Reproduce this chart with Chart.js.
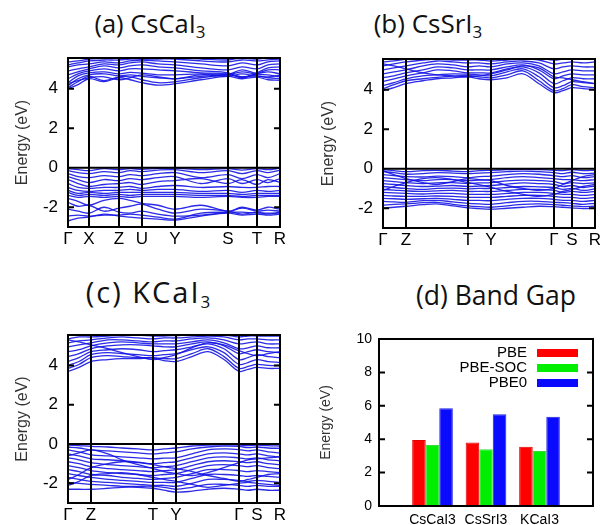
<!DOCTYPE html>
<html>
<head>
<meta charset="utf-8">
<script src="https://cdn.jsdelivr.net/npm/chart.js@4/dist/chart.umd.min.js"></script>
<style>
html, body { margin: 0; padding: 0; background: #fff; }
#wrap { position: relative; width: 600px; height: 525px; overflow: hidden; }
canvas { position: absolute; }
.ttl { position: absolute; font-family: "Open Sans", sans-serif; font-size: 25.5px; color: #111; text-align: center; white-space: nowrap; line-height: 30px; }
.ttl sub { font-size: 17px; vertical-align: -5px; line-height: 0; }
</style>
</head>
<body>
<div id="wrap">
  <div class="ttl" style="left:50px;top:8px;width:200px">(a) CsCaI<sub>3</sub></div>
  <div class="ttl" style="left:328px;top:8px;width:200px;font-size:26px">(b) CsSrI<sub>3</sub></div>
  <div class="ttl" style="left:49px;top:277px;width:200px;font-size:29px;letter-spacing:2px">(c) KCaI<sub>3</sub></div>
  <div class="ttl" style="left:396px;top:280px;width:200px;font-size:26.5px">(d) Band Gap</div>
  <canvas id="cA" width="290" height="215" style="left:0;top:48px"></canvas>
  <canvas id="cB" width="300" height="215" style="left:300px;top:48px"></canvas>
  <canvas id="cC" width="290" height="200" style="left:0;top:325px"></canvas>
  <canvas id="cD" width="300" height="200" style="left:300px;top:325px"></canvas>
</div>
<script>
Chart.defaults.font.family = '"Liberation Sans", Arial, sans-serif';
Chart.defaults.color = '#000';

const bandTicks = [-2, 0, 2, 4];
const gapTicks = [0, 2, 4, 6, 8, 10];

// (a) CsCaI3 -- k path and bands
const kA = [0, 10, 21, 36, 51, 62, 74, 90, 107, 133, 160, 174, 189, 200, 212];
const symA = [0, 21, 51, 74, 107, 160, 189, 212];
const labA = ['Γ', 'X', 'Z', 'U', 'Y', 'S', 'T', 'R'];
const condA = [
  [4.00, 4.20, 4.50, 4.35, 4.55, 4.45, 4.30, 4.18, 4.25, 4.45, 4.62, 4.50, 4.58, 4.45, 4.42],
  [4.05, 4.35, 4.62, 4.40, 4.60, 4.60, 4.45, 4.30, 4.35, 4.55, 4.68, 4.60, 4.65, 4.55, 4.50],
  [4.15, 4.50, 4.70, 4.75, 4.65, 4.70, 4.62, 4.55, 4.50, 4.62, 4.70, 4.85, 4.72, 4.70, 4.60],
  [4.25, 4.40, 4.55, 4.60, 4.45, 4.55, 4.70, 4.60, 4.50, 4.70, 4.62, 4.75, 4.62, 4.60, 4.68],
  [4.30, 4.65, 4.80, 4.85, 4.75, 4.82, 4.78, 4.70, 4.70, 4.75, 4.72, 4.95, 4.78, 4.85, 4.75],
  [4.50, 4.75, 4.90, 5.00, 4.90, 5.00, 5.00, 4.95, 4.90, 4.80, 4.75, 4.60, 4.75, 4.95, 4.95],
  [4.70, 4.85, 5.00, 5.15, 5.05, 5.15, 5.20, 5.10, 5.05, 4.90, 4.80, 4.55, 4.80, 5.05, 5.10],
  [4.90, 5.00, 5.10, 5.25, 5.20, 5.30, 5.35, 5.25, 5.20, 5.05, 4.95, 5.10, 5.00, 5.20, 5.25],
  [5.10, 5.20, 5.25, 5.35, 5.30, 5.40, 5.45, 5.40, 5.35, 5.25, 5.15, 5.30, 5.20, 5.35, 5.40],
  [5.20, 5.30, 5.40, 5.45, 5.45, 5.50, 5.50, 5.50, 5.50, 5.40, 5.35, 5.45, 5.40, 5.45, 5.50],
  [5.35, 5.40, 5.50, 5.55, 5.55, 5.58, 5.60, 5.60, 5.58, 5.50, 5.45, 5.55, 5.50, 5.55, 5.58]
];
const valA = [
  [-0.05, -0.10, -0.15, -0.05, -0.10, -0.05, -0.08, -0.03, -0.02, -0.10, -0.05, -0.12, -0.05, -0.10, -0.02],
  [-0.15, -0.25, -0.30, -0.20, -0.25, -0.15, -0.20, -0.12, -0.10, -0.25, -0.15, -0.30, -0.15, -0.25, -0.12],
  [-0.30, -0.45, -0.50, -0.40, -0.45, -0.35, -0.40, -0.30, -0.25, -0.50, -0.35, -0.55, -0.35, -0.50, -0.30],
  [-0.45, -0.60, -0.75, -0.60, -0.65, -0.55, -0.60, -0.50, -0.45, -0.80, -0.55, -0.80, -0.60, -0.75, -0.55],
  [-0.60, -0.80, -0.95, -0.85, -0.80, -0.75, -0.85, -0.70, -0.65, -0.55, -0.80, -0.60, -0.85, -0.60, -0.75],
  [-0.80, -1.00, -1.05, -1.00, -1.00, -0.95, -1.05, -0.95, -0.90, -1.00, -0.95, -1.00, -1.00, -0.95, -0.95],
  [-1.00, -1.15, -1.20, -1.15, -1.15, -1.10, -1.15, -1.10, -1.10, -1.20, -1.15, -1.25, -1.15, -1.20, -1.15],
  [-1.15, -1.30, -1.25, -1.30, -1.25, -1.25, -1.25, -1.25, -1.25, -1.30, -1.30, -1.35, -1.30, -1.30, -1.30],
  [-1.25, -1.40, -1.35, -1.40, -1.35, -1.40, -1.35, -1.35, -1.35, -1.40, -1.40, -1.45, -1.40, -1.40, -1.40],
  [-1.40, -1.50, -1.45, -1.50, -1.45, -1.50, -1.45, -1.45, -1.45, -1.50, -1.45, -1.50, -1.50, -1.45, -1.45],
  [-1.55, -1.70, -1.90, -1.65, -1.55, -1.65, -1.80, -1.90, -2.10, -1.90, -2.20, -2.00, -2.15, -2.00, -2.10],
  [-1.75, -1.95, -1.90, -2.20, -2.05, -1.95, -1.85, -2.10, -2.30, -2.10, -2.20, -2.35, -2.25, -2.35, -2.25],
  [-2.10, -2.20, -2.30, -2.00, -2.25, -2.30, -2.20, -2.35, -2.45, -2.40, -2.25, -2.05, -2.20, -2.15, -2.20],
  [-2.45, -2.40, -2.45, -2.40, -2.40, -2.35, -2.40, -2.50, -2.60, -2.30, -2.25, -2.25, -2.30, -2.30, -2.30],
  [-2.70, -2.55, -2.50, -2.35, -2.45, -2.50, -2.55, -2.60, -2.65, -2.45, -2.30, -2.40, -2.35, -2.40, -2.35]
];

// (b) CsSrI3
const kB = [0, 11, 23, 40, 54, 70, 85, 96, 108, 124, 140, 156, 171, 180, 189, 200, 212];
const symB = [0, 23, 85, 108, 171, 189, 212];
const labB = ['Γ', 'Z', 'T', 'Y', 'Γ', 'S', 'R'];
const condB = [
  [3.95, 4.10, 4.30, 4.45, 4.55, 4.60, 4.65, 4.55, 4.50, 4.60, 4.80, 4.30, 3.85, 3.95, 4.10, 4.05, 4.00],
  [4.05, 4.25, 4.45, 4.55, 4.62, 4.68, 4.72, 4.65, 4.60, 4.75, 4.95, 4.45, 3.95, 4.05, 4.25, 4.15, 4.10],
  [4.20, 4.35, 4.55, 4.70, 4.75, 4.80, 4.78, 4.75, 4.70, 4.90, 5.05, 4.65, 4.10, 4.20, 4.40, 4.35, 4.30],
  [4.40, 4.55, 4.70, 4.85, 5.00, 4.95, 4.85, 4.85, 4.85, 5.05, 5.15, 4.85, 4.30, 4.45, 4.60, 4.55, 4.55],
  [4.60, 4.70, 4.85, 5.00, 5.15, 5.10, 5.00, 5.00, 5.00, 5.15, 5.25, 5.00, 4.55, 4.70, 4.80, 4.75, 4.75],
  [4.80, 4.90, 5.00, 5.20, 5.30, 5.25, 5.15, 5.20, 5.15, 5.30, 5.35, 5.20, 4.80, 4.90, 5.00, 4.95, 4.95],
  [5.00, 5.10, 5.20, 5.35, 5.45, 5.40, 5.35, 5.35, 5.30, 5.40, 5.45, 5.35, 5.05, 5.15, 5.20, 5.15, 5.15],
  [5.20, 5.30, 5.40, 5.50, 5.55, 5.50, 5.50, 5.50, 5.45, 5.50, 5.55, 5.50, 5.30, 5.35, 5.40, 5.35, 5.40],
  [5.40, 5.45, 5.55, 5.60, 5.60, 5.60, 5.60, 5.60, 5.58, 5.60, 5.60, 5.60, 5.50, 5.55, 5.55, 5.55, 5.55],
  [5.30, 5.20, 5.05, 4.85, 4.75, 4.70, 4.65, 4.70, 4.80, 5.00, 5.20, 5.10, 4.65, 4.60, 4.50, 4.40, 4.30]
];
const valB = [
  [-0.05, -0.10, -0.15, -0.10, -0.08, -0.12, -0.15, -0.10, -0.08, -0.05, -0.03, -0.05, -0.08, -0.10, -0.05, -0.10, -0.08],
  [-0.15, -0.20, -0.28, -0.25, -0.20, -0.22, -0.25, -0.22, -0.20, -0.15, -0.12, -0.15, -0.20, -0.25, -0.18, -0.25, -0.22],
  [-0.30, -0.35, -0.40, -0.42, -0.38, -0.40, -0.45, -0.40, -0.38, -0.30, -0.25, -0.28, -0.35, -0.40, -0.35, -0.45, -0.40],
  [-0.45, -0.50, -0.55, -0.60, -0.55, -0.55, -0.60, -0.58, -0.55, -0.45, -0.40, -0.45, -0.50, -0.55, -0.55, -0.60, -0.55],
  [-0.60, -0.65, -0.70, -0.75, -0.72, -0.70, -0.75, -0.72, -0.70, -0.62, -0.58, -0.60, -0.65, -0.75, -0.70, -0.75, -0.72],
  [-0.75, -0.80, -0.85, -0.90, -0.88, -0.85, -0.90, -0.88, -0.85, -0.78, -0.72, -0.75, -0.80, -0.90, -0.85, -0.95, -0.88],
  [-0.90, -0.95, -1.00, -1.05, -1.00, -0.98, -1.02, -1.00, -1.00, -0.95, -0.90, -0.92, -0.95, -1.05, -1.00, -1.10, -1.02],
  [-1.05, -1.08, -1.12, -1.15, -1.12, -1.10, -1.15, -1.15, -1.15, -1.10, -1.05, -1.05, -1.10, -1.20, -1.15, -1.20, -1.15],
  [-1.20, -1.22, -1.25, -1.28, -1.25, -1.25, -1.30, -1.30, -1.30, -1.25, -1.20, -1.20, -1.25, -1.30, -1.30, -1.35, -1.30],
  [-1.35, -1.38, -1.40, -1.40, -1.38, -1.40, -1.45, -1.45, -1.45, -1.40, -1.35, -1.35, -1.40, -1.45, -1.45, -1.50, -1.45],
  [-1.50, -1.52, -1.55, -1.52, -1.50, -1.55, -1.60, -1.60, -1.62, -1.55, -1.50, -1.50, -1.55, -1.60, -1.60, -1.65, -1.60],
  [-1.65, -1.68, -1.70, -1.62, -1.60, -1.68, -1.75, -1.78, -1.80, -1.72, -1.65, -1.65, -1.70, -1.72, -1.75, -1.80, -1.75],
  [-1.85, -1.80, -1.78, -1.72, -1.70, -1.80, -1.88, -1.92, -1.95, -1.88, -1.80, -1.78, -1.82, -1.85, -1.88, -1.92, -1.90],
  [-2.00, -1.95, -1.90, -1.82, -1.78, -1.88, -1.98, -2.02, -2.05, -2.00, -1.95, -1.90, -1.92, -1.95, -1.98, -2.02, -2.00],
  [-0.10, -0.30, -0.50, -0.70, -0.80, -0.65, -0.50, -0.55, -0.60, -0.85, -1.00, -1.10, -1.00, -0.80, -0.60, -0.40, -0.30],
  [-1.10, -0.90, -0.70, -0.50, -0.45, -0.55, -0.70, -0.80, -0.95, -1.15, -1.30, -1.40, -1.30, -1.15, -1.05, -0.90, -0.80]
];

// (c) KCaI3 (same path as b)
const kC = [0, 11, 23, 40, 54, 70, 85, 96, 108, 124, 140, 156, 171, 180, 189, 200, 212];
const symC = [0, 23, 85, 108, 171, 189, 212];
const labC = ['Γ', 'Z', 'T', 'Y', 'Γ', 'S', 'R'];
const condC = [
  [3.70, 3.90, 4.20, 4.30, 4.35, 4.35, 4.38, 4.25, 4.20, 4.45, 4.70, 4.30, 3.70, 3.80, 3.90, 3.85, 3.85],
  [3.85, 4.05, 4.40, 4.50, 4.45, 4.40, 4.40, 4.35, 4.35, 4.60, 4.85, 4.45, 3.85, 3.95, 4.05, 4.00, 4.00],
  [4.00, 4.20, 4.55, 4.65, 4.60, 4.55, 4.50, 4.55, 4.60, 4.80, 4.95, 4.65, 4.05, 4.15, 4.30, 4.20, 4.15],
  [4.20, 4.40, 4.70, 4.80, 4.85, 4.80, 4.70, 4.75, 4.80, 4.95, 5.10, 4.85, 4.30, 4.40, 4.55, 4.45, 4.40],
  [4.45, 4.60, 4.85, 5.00, 5.05, 5.05, 5.00, 4.95, 4.95, 5.10, 5.20, 5.00, 4.60, 4.70, 4.80, 4.70, 4.65],
  [4.70, 4.80, 5.00, 5.15, 5.20, 5.15, 5.10, 5.10, 5.10, 5.20, 5.30, 5.15, 4.85, 4.90, 5.00, 4.90, 4.90],
  [4.95, 5.05, 5.15, 5.30, 5.30, 5.25, 5.20, 5.25, 5.25, 5.35, 5.40, 5.30, 5.10, 5.15, 5.20, 5.10, 5.10],
  [5.15, 5.25, 5.30, 5.40, 5.45, 5.40, 5.35, 5.40, 5.40, 5.45, 5.50, 5.45, 5.30, 5.35, 5.35, 5.30, 5.30],
  [5.35, 5.45, 5.45, 5.50, 5.55, 5.55, 5.50, 5.50, 5.52, 5.55, 5.55, 5.55, 5.45, 5.50, 5.50, 5.50, 5.50],
  [5.30, 5.20, 5.05, 4.85, 4.65, 4.45, 4.30, 4.40, 4.55, 4.90, 5.15, 5.05, 4.75, 4.60, 4.50, 4.60, 4.70]
];
const valC = [
  [-0.05, -0.08, -0.12, -0.15, -0.20, -0.25, -0.30, -0.25, -0.20, -0.10, -0.05, -0.03, -0.05, -0.08, -0.05, -0.08, -0.10],
  [-0.15, -0.20, -0.30, -0.35, -0.40, -0.45, -0.50, -0.45, -0.40, -0.25, -0.15, -0.10, -0.12, -0.18, -0.15, -0.20, -0.22],
  [-0.30, -0.40, -0.55, -0.60, -0.65, -0.70, -0.75, -0.72, -0.70, -0.50, -0.30, -0.25, -0.28, -0.35, -0.30, -0.40, -0.45],
  [-0.50, -0.60, -0.75, -0.80, -0.85, -0.92, -1.00, -0.95, -0.90, -0.70, -0.50, -0.45, -0.50, -0.55, -0.50, -0.60, -0.65],
  [-0.70, -0.80, -0.95, -1.05, -1.10, -1.15, -1.20, -1.15, -1.10, -0.90, -0.70, -0.65, -0.70, -0.75, -0.70, -0.80, -0.85],
  [-0.90, -1.00, -1.15, -1.25, -1.30, -1.35, -1.40, -1.35, -1.30, -1.10, -0.90, -0.85, -0.90, -0.95, -0.90, -1.00, -1.05],
  [-1.10, -1.20, -1.35, -1.45, -1.50, -1.55, -1.60, -1.55, -1.50, -1.30, -1.10, -1.05, -1.10, -1.15, -1.10, -1.20, -1.25],
  [-1.30, -1.40, -1.55, -1.60, -1.70, -1.75, -1.80, -1.75, -1.70, -1.50, -1.30, -1.30, -1.35, -1.40, -1.35, -1.40, -1.45],
  [-1.50, -1.60, -1.70, -1.80, -1.85, -1.90, -1.95, -1.95, -1.95, -1.75, -1.55, -1.55, -1.60, -1.65, -1.60, -1.65, -1.70],
  [-1.70, -1.80, -1.90, -1.95, -2.00, -2.05, -2.10, -2.10, -2.15, -2.00, -1.80, -1.80, -1.85, -1.90, -1.85, -1.90, -1.95],
  [-1.95, -2.00, -2.05, -2.10, -2.15, -2.15, -2.15, -2.20, -2.30, -2.20, -2.05, -2.05, -2.10, -2.15, -2.10, -2.15, -2.15],
  [-2.30, -2.30, -2.30, -2.25, -2.20, -2.20, -2.25, -2.35, -2.45, -2.40, -2.30, -2.25, -2.30, -2.35, -2.30, -2.35, -2.35],
  [-0.60, -0.45, -0.30, -0.50, -0.80, -1.05, -1.25, -1.40, -1.50, -1.60, -1.45, -1.20, -0.95, -0.80, -0.75, -0.70, -0.65],
  [-1.80, -1.55, -1.20, -1.00, -0.90, -0.95, -1.05, -1.15, -1.25, -1.40, -1.60, -1.75, -1.90, -1.80, -1.70, -1.55, -1.50],
  [-2.10, -1.90, -1.60, -1.50, -1.45, -1.55, -1.70, -1.80, -1.90, -2.05, -2.20, -2.10, -2.00, -1.95, -2.00, -2.05, -2.10]
];

// (d) band gaps
const compounds = ['CsCaI3', 'CsSrI3', 'KCaI3'];
const gapPBE = [3.95, 3.80, 3.55];
const gapSOC = [3.65, 3.40, 3.30];
const gapPBE0 = [5.85, 5.50, 5.35];

// gnuplot-ish frame: box, inner y ticks, k-point lines, Fermi line
const framePlugin = {
  id: 'frame',
  afterDatasetsDraw(chart, args, opts) {
    const { ctx, chartArea: a, scales: { x, y } } = chart;
    ctx.save();
    ctx.strokeStyle = '#000';
    ctx.lineWidth = 2;
    ctx.beginPath();
    (opts.vlines || []).forEach(v => {
      const px = x.getPixelForValue(v);
      ctx.moveTo(px, a.top);
      ctx.lineTo(px, a.bottom);
    });
    if (opts.zero) {
      const py = y.getPixelForValue(0);
      ctx.moveTo(a.left, py);
      ctx.lineTo(a.right, py);
    }
    (opts.yTicks || []).forEach(v => {
      const py = y.getPixelForValue(v);
      ctx.moveTo(a.left, py);
      ctx.lineTo(a.left + 6, py);
      ctx.moveTo(a.right - 6, py);
      ctx.lineTo(a.right, py);
    });
    ctx.stroke();
    ctx.strokeRect(a.left, a.top, a.width, a.height);
    ctx.restore();
  }
};

function bandChart(id, kPos, sym, lab, cond, val, pad, yWidth, xHeight) {
  const bands = cond.concat(val);
  return new Chart(document.getElementById(id), {
    type: 'line',
    data: {
      datasets: bands.map(b => ({
        data: kPos.map((k, i) => ({ x: k, y: b[i] })),
        borderColor: 'rgba(20,20,230,0.9)',
        borderWidth: 1.3,
        pointRadius: 0,
        tension: 0.35
      }))
    },
    options: {
      responsive: false,
      animation: false,
      layout: { padding: pad },
      plugins: {
        legend: { display: false },
        tooltip: { enabled: false },
        frame: { vlines: sym, yTicks: bandTicks, zero: true }
      },
      scales: {
        x: {
          type: 'linear', min: 0, max: 212,
          grid: { display: false, drawTicks: false }, border: { display: false },
          afterBuildTicks: s => { s.ticks = sym.map(v => ({ value: v })); },
          ticks: { callback: (v, i) => lab[i], font: { size: 17 }, padding: 2, maxRotation: 0, autoSkip: false },
          afterFit: s => { s.height = xHeight; s.paddingLeft = 0; s.paddingRight = 0; }
        },
        y: {
          min: -3, max: 5.55,
          grid: { display: false, drawTicks: false }, border: { display: false },
          afterBuildTicks: s => { s.ticks = bandTicks.map(v => ({ value: v })); },
          ticks: { font: { size: 17 }, padding: 10 },
          title: { display: true, text: 'Energy (eV)', font: { size: 16 }, color: '#333', padding: 0 },
          afterFit: s => { s.width = yWidth; s.paddingTop = 0; s.paddingBottom = 0; }
        }
      }
    },
    plugins: [framePlugin]
  });
}

bandChart('cA', kA, symA, labA, condA, valA, { left: 13, right: 10, top: 10, bottom: 15 }, 55, 21);
bandChart('cB', kB, symB, labB, condB, valB, { left: 19, right: 5, top: 11, bottom: 15 }, 64, 20);
bandChart('cC', kC, symC, labC, condC, valC, { left: 13, right: 10, top: 10, bottom: 0 }, 55, 22);

// legend drawn gnuplot style: text right-aligned, swatch on the right
const gapLegend = {
  id: 'gapLegend',
  afterDatasetsDraw(chart) {
    const { ctx, chartArea: a } = chart;
    ctx.save();
    ctx.font = '15px "Liberation Sans", Arial, sans-serif';
    ctx.textAlign = 'right';
    ctx.textBaseline = 'middle';
    chart.data.datasets.forEach((ds, i) => {
      const yy = a.top + 14 + i * 15;
      ctx.fillStyle = '#000';
      ctx.fillText(ds.label, a.right - 66, yy);
      ctx.fillStyle = ds.backgroundColor;
      ctx.fillRect(a.right - 56, yy - 4, 41, 8);
    });
    ctx.restore();
  }
};

const pad = arr => [null].concat(arr, [null]);

new Chart(document.getElementById('cD'), {
  type: 'bar',
  data: {
    labels: [''].concat(compounds, ['']),
    datasets: [
      { label: 'PBE', data: pad(gapPBE), backgroundColor: '#ff0000', borderColor: '#e00000', borderWidth: 1 },
      { label: 'PBE-SOC', data: pad(gapSOC), backgroundColor: '#00ee00', borderColor: '#33dd33', borderWidth: 1 },
      { label: 'PBE0', data: pad(gapPBE0), backgroundColor: '#0a0aff', borderColor: '#2222dd', borderWidth: 1 }
    ]
  },
  options: {
    responsive: false,
    animation: false,
    layout: { padding: { left: 18, right: 7, top: 14, bottom: 0 } },
    datasets: { bar: { categoryPercentage: 0.76, barPercentage: 1.0 } },
    plugins: {
      legend: { display: false },
      tooltip: { enabled: false },
      frame: { yTicks: gapTicks }
    },
    scales: {
      x: {
        offset: false,
        grid: { display: false, drawTicks: false }, border: { display: false },
        ticks: { font: { size: 14 }, padding: 6, maxRotation: 0, autoSkip: false },
        afterFit: s => { s.height = 19; s.paddingLeft = 0; s.paddingRight = 0; }
      },
      y: {
        min: 0, max: 10,
        grid: { display: false, drawTicks: false }, border: { display: false },
        afterBuildTicks: s => { s.ticks = gapTicks.map(v => ({ value: v })); },
        ticks: { font: { size: 14 }, padding: 7 },
        title: { display: true, text: 'Energy (eV)', font: { size: 14 }, color: '#333', padding: 0 },
        afterFit: s => { s.width = 61; s.paddingTop = 0; s.paddingBottom = 0; }
      }
    }
  },
  plugins: [framePlugin, gapLegend]
});
</script>
</body>
</html>
